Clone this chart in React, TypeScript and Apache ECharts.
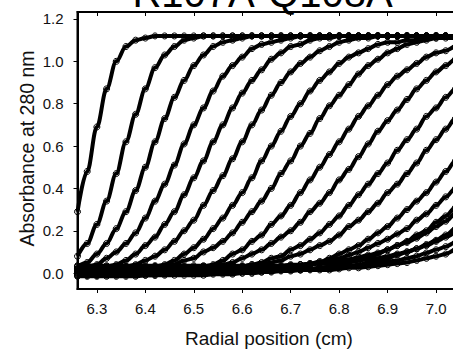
import React, { useEffect, useRef } from "react";
import * as echarts from "echarts";

const radius = [
  6.26, 6.28, 6.30, 6.32, 6.34, 6.36, 6.38, 6.40, 6.42, 6.44,
  6.46, 6.48, 6.50, 6.52, 6.54, 6.56, 6.58, 6.60, 6.62, 6.64,
  6.66, 6.68, 6.70, 6.72, 6.74, 6.76, 6.78, 6.80, 6.82, 6.84,
  6.86, 6.88, 6.90, 6.92, 6.94, 6.96, 6.98, 7.00, 7.02, 7.04,
  7.06, 7.08, 7.10,
];

const scan01 = [
  0.29, 0.48, 0.69, 0.87, 1.00, 1.07, 1.10, 1.11, 1.12, 1.12,
  1.12, 1.12, 1.12, 1.12, 1.12, 1.12, 1.12, 1.12, 1.12, 1.12,
  1.12, 1.12, 1.12, 1.12, 1.12, 1.12, 1.12, 1.12, 1.12, 1.12,
  1.12, 1.12, 1.12, 1.12, 1.12, 1.12, 1.12, 1.12, 1.12, 1.12,
  1.12, 1.12, 1.12,
];
const scan02 = [
  0.08, 0.14, 0.23, 0.34, 0.47, 0.62, 0.75, 0.87, 0.97, 1.03,
  1.07, 1.10, 1.11, 1.12, 1.12, 1.12, 1.12, 1.12, 1.12, 1.12,
  1.12, 1.12, 1.12, 1.12, 1.12, 1.12, 1.12, 1.12, 1.12, 1.12,
  1.12, 1.12, 1.12, 1.12, 1.12, 1.12, 1.12, 1.12, 1.12, 1.12,
  1.12, 1.12, 1.12,
];
const scan03 = [
  0.03, 0.05, 0.09, 0.14, 0.21, 0.29, 0.39, 0.50, 0.62, 0.73,
  0.83, 0.91, 0.98, 1.03, 1.07, 1.09, 1.10, 1.11, 1.12, 1.12,
  1.12, 1.12, 1.12, 1.12, 1.12, 1.12, 1.12, 1.12, 1.12, 1.12,
  1.12, 1.12, 1.12, 1.12, 1.12, 1.12, 1.12, 1.12, 1.12, 1.12,
  1.12, 1.12, 1.12,
];
const scan04 = [
  0.02, 0.03, 0.04, 0.07, 0.10, 0.14, 0.19, 0.26, 0.34, 0.42,
  0.51, 0.61, 0.70, 0.78, 0.86, 0.93, 0.98, 1.02, 1.06, 1.08,
  1.09, 1.10, 1.11, 1.12, 1.12, 1.12, 1.12, 1.12, 1.12, 1.12,
  1.12, 1.12, 1.12, 1.12, 1.12, 1.12, 1.12, 1.12, 1.12, 1.12,
  1.12, 1.12, 1.12,
];
const scan05 = [
  0.01, 0.01, 0.02, 0.03, 0.04, 0.06, 0.09, 0.13, 0.17, 0.23,
  0.29, 0.37, 0.45, 0.53, 0.62, 0.70, 0.78, 0.85, 0.91, 0.96,
  1.01, 1.04, 1.07, 1.08, 1.10, 1.11, 1.11, 1.12, 1.12, 1.12,
  1.12, 1.12, 1.12, 1.12, 1.12, 1.12, 1.12, 1.12, 1.12, 1.12,
  1.12, 1.12, 1.12,
];
const scan06 = [
  0.00, 0.00, 0.01, 0.01, 0.02, 0.03, 0.04, 0.06, 0.08, 0.11,
  0.15, 0.20, 0.25, 0.32, 0.39, 0.46, 0.54, 0.62, 0.70, 0.77,
  0.84, 0.90, 0.95, 0.99, 1.02, 1.05, 1.07, 1.09, 1.10, 1.11,
  1.11, 1.12, 1.12, 1.12, 1.12, 1.12, 1.12, 1.12, 1.12, 1.12,
  1.12, 1.12, 1.12,
];
const scan07 = [
  -0.01, -0.01, -0.01, -0.005, 0.00, 0.00, 0.01, 0.02, 0.03, 0.04,
  0.06, 0.09, 0.12, 0.16, 0.21, 0.26, 0.32, 0.38, 0.45, 0.53,
  0.60, 0.67, 0.74, 0.80, 0.86, 0.91, 0.95, 0.99, 1.02, 1.04,
  1.06, 1.08, 1.09, 1.09, 1.10, 1.10, 1.11, 1.11, 1.11, 1.11,
  1.11, 1.11, 1.11,
];
const scan08 = [
  0.01, 0.01, 0.01, 0.01, 0.01, 0.02, 0.02, 0.02, 0.03, 0.03,
  0.04, 0.06, 0.07, 0.10, 0.12, 0.15, 0.19, 0.24, 0.29, 0.34,
  0.40, 0.47, 0.53, 0.60, 0.66, 0.73, 0.79, 0.84, 0.89, 0.94,
  0.98, 1.01, 1.04, 1.06, 1.08, 1.09, 1.10, 1.11, 1.12, 1.12,
  1.13, 1.13, 1.13,
];
const scan09 = [
  -0.015, -0.015, -0.015, -0.015, -0.015, -0.015, -0.015, -0.01, -0.01, 0.00,
  0.00, 0.01, 0.02, 0.03, 0.04, 0.06, 0.09, 0.11, 0.15, 0.18,
  0.23, 0.27, 0.32, 0.38, 0.44, 0.50, 0.56, 0.62, 0.68, 0.74,
  0.79, 0.84, 0.89, 0.93, 0.96, 0.99, 1.02, 1.04, 1.05, 1.07,
  1.08, 1.09, 1.09,
];
const scan10 = [
  0.005, 0.005, 0.005, 0.005, 0.005, 0.005, 0.005, 0.005, 0.01, 0.01,
  0.01, 0.02, 0.02, 0.03, 0.03, 0.04, 0.05, 0.07, 0.09, 0.11,
  0.14, 0.17, 0.20, 0.24, 0.29, 0.33, 0.38, 0.44, 0.49, 0.55,
  0.61, 0.67, 0.72, 0.77, 0.82, 0.87, 0.91, 0.95, 0.98, 1.01,
  1.03, 1.05, 1.07,
];
const scan11 = [
  -0.005, -0.005, -0.005, -0.005, -0.005, -0.005, -0.005, -0.005, -0.005, -0.005,
  0.00, 0.00, 0.00, 0.005, 0.01, 0.01, 0.02, 0.03, 0.04, 0.05,
  0.07, 0.08, 0.11, 0.13, 0.16, 0.19, 0.23, 0.27, 0.32, 0.37,
  0.42, 0.47, 0.52, 0.58, 0.63, 0.68, 0.74, 0.78, 0.83, 0.87,
  0.91, 0.94, 0.97,
];
const scan12 = [
  0.015, 0.015, 0.015, 0.015, 0.015, 0.015, 0.015, 0.015, 0.015, 0.015,
  0.015, 0.015, 0.02, 0.02, 0.02, 0.025, 0.03, 0.03, 0.04, 0.04,
  0.05, 0.06, 0.08, 0.09, 0.11, 0.13, 0.15, 0.18, 0.22, 0.25,
  0.29, 0.33, 0.38, 0.42, 0.47, 0.52, 0.58, 0.63, 0.68, 0.73,
  0.77, 0.82, 0.86,
];
const scan13 = [
  -0.01, -0.01, -0.01, -0.01, -0.01, -0.01, -0.01, -0.01, -0.01, -0.01,
  -0.01, -0.01, -0.01, -0.01, -0.005, -0.005, -0.005, 0.00, 0.00, 0.005,
  0.01, 0.015, 0.02, 0.03, 0.04, 0.05, 0.07, 0.09, 0.11, 0.13,
  0.16, 0.19, 0.22, 0.26, 0.30, 0.34, 0.38, 0.43, 0.48, 0.53,
  0.57, 0.62, 0.67,
];
const scan14 = [
  0.02, 0.02, 0.02, 0.02, 0.02, 0.02, 0.02, 0.02, 0.02, 0.02,
  0.02, 0.02, 0.02, 0.02, 0.02, 0.02, 0.02, 0.025, 0.025, 0.03,
  0.03, 0.03, 0.035, 0.04, 0.045, 0.055, 0.06, 0.07, 0.085, 0.10,
  0.12, 0.14, 0.16, 0.185, 0.21, 0.25, 0.28, 0.32, 0.36, 0.40,
  0.44, 0.49, 0.53,
];
const scan15 = [
  0.00, 0.00, 0.00, 0.00, 0.00, 0.00, 0.00, 0.00, 0.00, 0.00,
  0.00, 0.00, 0.00, 0.00, 0.00, 0.00, 0.00, 0.00, 0.00, 0.005,
  0.005, 0.01, 0.01, 0.015, 0.02, 0.025, 0.03, 0.04, 0.05, 0.06,
  0.07, 0.09, 0.11, 0.13, 0.15, 0.18, 0.20, 0.24, 0.27, 0.31,
  0.34, 0.38, 0.43,
];
const scan16 = [
  0.03, 0.03, 0.03, 0.03, 0.03, 0.03, 0.03, 0.03, 0.03, 0.03,
  0.03, 0.03, 0.03, 0.03, 0.03, 0.03, 0.03, 0.03, 0.03, 0.035,
  0.035, 0.035, 0.04, 0.04, 0.045, 0.045, 0.05, 0.06, 0.065, 0.075,
  0.085, 0.095, 0.11, 0.13, 0.145, 0.165, 0.19, 0.22, 0.245, 0.28,
  0.31, 0.35, 0.39,
];
const scan17 = [
  0.01, 0.01, 0.01, 0.01, 0.01, 0.01, 0.01, 0.01, 0.01, 0.01,
  0.01, 0.01, 0.01, 0.01, 0.01, 0.01, 0.01, 0.01, 0.01, 0.01,
  0.01, 0.015, 0.015, 0.015, 0.02, 0.02, 0.025, 0.03, 0.035, 0.04,
  0.05, 0.06, 0.07, 0.085, 0.10, 0.115, 0.135, 0.155, 0.18, 0.21,
  0.24, 0.27, 0.305,
];
const scan18 = [
  0.035, 0.035, 0.035, 0.035, 0.035, 0.035, 0.035, 0.035, 0.035, 0.035,
  0.035, 0.035, 0.035, 0.035, 0.035, 0.035, 0.035, 0.035, 0.035, 0.035,
  0.035, 0.035, 0.035, 0.04, 0.04, 0.045, 0.045, 0.05, 0.055, 0.06,
  0.065, 0.07, 0.08, 0.09, 0.10, 0.115, 0.13, 0.15, 0.17, 0.19,
  0.22, 0.245, 0.275,
];
const scan19 = [
  0.02, 0.02, 0.02, 0.02, 0.02, 0.02, 0.02, 0.02, 0.02, 0.02,
  0.02, 0.02, 0.02, 0.02, 0.02, 0.02, 0.02, 0.02, 0.02, 0.02,
  0.02, 0.02, 0.02, 0.02, 0.02, 0.025, 0.03, 0.03, 0.035, 0.035,
  0.04, 0.045, 0.055, 0.06, 0.07, 0.08, 0.095, 0.11, 0.125, 0.145,
  0.165, 0.19, 0.215,
];
const scan20 = [
  0.015, 0.015, 0.015, 0.015, 0.015, 0.015, 0.015, 0.015, 0.015, 0.015,
  0.015, 0.015, 0.015, 0.015, 0.015, 0.015, 0.015, 0.015, 0.015, 0.015,
  0.015, 0.015, 0.015, 0.015, 0.015, 0.015, 0.015, 0.02, 0.025, 0.025,
  0.03, 0.035, 0.04, 0.045, 0.05, 0.06, 0.07, 0.08, 0.09, 0.11,
  0.125, 0.145, 0.165,
];

const xTicks = [6.3, 6.4, 6.5, 6.6, 6.7, 6.8, 6.9, 7.0, 7.1];
const xTickLabels = [6.3, 6.4, 6.5, 6.6, 6.7, 6.8, 6.9, 7.0];
const yTicks = [0.0, 0.2, 0.4, 0.6, 0.8, 1.0, 1.2];
const titleText = "R107A-Q108A";
const xName = "Radial position (cm)";
const yName = "Absorbance at 280 nm";

const FONT = "'Liberation Sans', Arial, Helvetica, sans-serif";

export default function App() {
  const ref = useRef<HTMLDivElement>(null);

  useEffect(() => {
    if (!ref.current) return;
    const chart = echarts.init(ref.current, null, { renderer: "svg" });
    const scans = [
      scan01, scan02, scan03, scan04, scan05, scan06, scan07, scan08, scan09, scan10,
      scan11, scan12, scan13, scan14, scan15, scan16, scan17, scan18, scan19, scan20,
    ];
    const series = scans.map((s) => ({
      type: "line",
      data: radius.map((x, k) => [x, s[k]]),
      smooth: 0.35,
      smoothMonotone: "x",
      symbol: "circle",
      symbolSize: 6,
      showSymbol: true,
      showAllSymbol: true,
      itemStyle: { color: "rgba(255,255,255,0)", borderColor: "#000", borderWidth: 1 },
      lineStyle: { color: "#000", width: 4 },
      emphasis: { disabled: true },
      silent: true,
      clip: true,
      xAxisIndex: 0,
      yAxisIndex: 0,
    }));

    const labelStyle = { fontSize: 15, color: "#111", fontFamily: FONT };

    chart.setOption({
      animation: false,
      backgroundColor: "#fff",
      grid: {
        left: 77.5,
        top: 12,
        width: 407,
        height: 277,
        containLabel: false,
        outerBoundsMode: "none",
        show: true,
        borderColor: "#000",
        borderWidth: 2,
        backgroundColor: "transparent",
      },
      xAxis: [
        {
          type: "value",
          min: 6.26,
          max: 7.1,
          position: "bottom",
          axisLine: { show: true, onZero: false, lineStyle: { color: "#000", width: 2 } },
          axisTick: { show: true, inside: false, length: 4, customValues: xTicks, lineStyle: { color: "#000", width: 1 } },
          axisLabel: {
            show: true,
            customValues: xTickLabels,
            margin: 12,
            formatter: (v: number) => v.toFixed(1),
            ...labelStyle,
          },
          splitLine: { show: false },
        },
        {
          type: "value",
          min: 6.26,
          max: 7.1,
          position: "top",
          axisLine: { show: true, onZero: false, lineStyle: { color: "#000", width: 2 } },
          axisTick: { show: true, inside: true, length: 4, customValues: xTicks, lineStyle: { color: "#000", width: 1 } },
          axisLabel: { show: false },
          splitLine: { show: false },
        },
      ],
      yAxis: {
        type: "value",
        min: -0.075,
        max: 1.233,
        axisLine: { show: true, onZero: false, lineStyle: { color: "#000", width: 2 } },
        axisTick: { show: true, inside: false, length: 4, customValues: yTicks, lineStyle: { color: "#000", width: 1 } },
        axisLabel: {
          show: true,
          customValues: yTicks,
          margin: 14,
          formatter: (v: number) => v.toFixed(1),
          ...labelStyle,
        },
        splitLine: { show: false },
      },
      graphic: [
        {
          type: "text",
          x: 262.5,
          y: -7,
          silent: true,
          style: {
            text: titleText,
            fill: "#000",
            font: `40px ${FONT}`,
            textAlign: "center",
            textVerticalAlign: "middle",
          },
        },
        {
          type: "text",
          x: 269,
          y: 338,
          silent: true,
          style: {
            text: xName,
            fill: "#111",
            font: `19px ${FONT}`,
            textAlign: "center",
            textVerticalAlign: "middle",
          },
        },
        {
          type: "text",
          x: 26.5,
          y: 148.5,
          rotation: Math.PI / 2,
          silent: true,
          style: {
            text: yName,
            fill: "#111",
            font: `19.5px ${FONT}`,
            textAlign: "center",
            textVerticalAlign: "middle",
          },
        },
      ],
      series,
    });

    return () => {
      chart.dispose();
    };
  }, []);

  return (
    <div
      style={{
        position: "fixed",
        left: 0,
        top: 0,
        width: 453,
        height: 350,
        overflow: "hidden",
        background: "#fff",
      }}
    >
      <div ref={ref} style={{ width: 520, height: 350 }} />
    </div>
  );
}
